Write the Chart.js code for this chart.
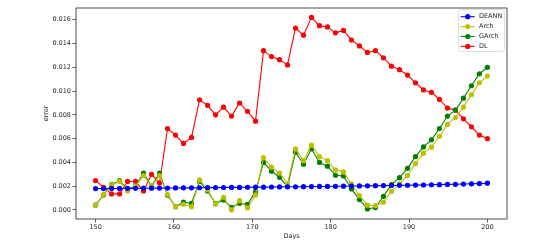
<!DOCTYPE html>
<html>
<head>
<meta charset="utf-8">
<script src="https://cdn.jsdelivr.net/npm/chart.js@4.4.1/dist/chart.umd.min.js"></script>
<style>
  html, body { margin: 0; padding: 0; background: #fff; }
  #wrap { width: 537px; height: 247px; }
</style>
</head>
<body>
<div id="wrap"><canvas id="errChart" width="537" height="247"></canvas></div>
<script>
// x positions (50 points between day 150 and 200)
const days = [150.00, 151.02, 152.04, 153.06, 154.08, 155.10, 156.12, 157.14, 158.16, 159.18,
              160.20, 161.22, 162.24, 163.27, 164.29, 165.31, 166.33, 167.35, 168.37, 169.39,
              170.41, 171.43, 172.45, 173.47, 174.49, 175.51, 176.53, 177.55, 178.57, 179.59,
              180.61, 181.63, 182.65, 183.67, 184.69, 185.71, 186.73, 187.76, 188.78, 189.80,
              190.82, 191.84, 192.86, 193.88, 194.90, 195.92, 196.94, 197.96, 198.98, 200.00];

const deann = [0.00180, 0.00180, 0.00181, 0.00181, 0.00182, 0.00182, 0.00183, 0.00183, 0.00184, 0.00184,
               0.00185, 0.00186, 0.00186, 0.00187, 0.00188, 0.00188, 0.00189, 0.00190, 0.00190, 0.00191,
               0.00192, 0.00192, 0.00193, 0.00194, 0.00195, 0.00195, 0.00196, 0.00197, 0.00198, 0.00198,
               0.00199, 0.00200, 0.00201, 0.00202, 0.00203, 0.00204, 0.00205, 0.00206, 0.00207, 0.00208,
               0.00209, 0.00210, 0.00212, 0.00213, 0.00215, 0.00216, 0.00218, 0.00220, 0.00222, 0.00225];

const arch = [0.00040, 0.00130, 0.00210, 0.00240, 0.00160, 0.00200, 0.00290, 0.00200, 0.00290, 0.00130,
              0.00028, 0.00048, 0.00028, 0.00253, 0.00170, 0.00050, 0.00107, 0.00000, 0.00078, 0.00017,
              0.00126, 0.00440, 0.00360, 0.00310, 0.00220, 0.00514, 0.00415, 0.00545, 0.00449, 0.00415,
              0.00337, 0.00320, 0.00220, 0.00120, 0.00040, 0.00036, 0.00065, 0.00157, 0.00220, 0.00290,
              0.00390, 0.00478, 0.00528, 0.00620, 0.00720, 0.00778, 0.00865, 0.00970, 0.01070, 0.01126];

const garch = [0.00040, 0.00126, 0.00213, 0.00247, 0.00174, 0.00200, 0.00310, 0.00200, 0.00310, 0.00124,
               0.00028, 0.00067, 0.00056, 0.00240, 0.00160, 0.00053, 0.00084, 0.00023, 0.00056, 0.00048,
               0.00154, 0.00400, 0.00326, 0.00275, 0.00196, 0.00486, 0.00385, 0.00514, 0.00400, 0.00368,
               0.00292, 0.00286, 0.00177, 0.00087, 0.00008, 0.00020, 0.00115, 0.00213, 0.00272, 0.00350,
               0.00449, 0.00530, 0.00590, 0.00685, 0.00790, 0.00840, 0.00940, 0.01045, 0.01146, 0.01200];

const dl = [0.00247, 0.00190, 0.00135, 0.00135, 0.00240, 0.00240, 0.00160, 0.00300, 0.00227, 0.00685,
            0.00630, 0.00560, 0.00610, 0.00927, 0.00880, 0.00800, 0.00865, 0.00790, 0.00900, 0.00830,
            0.00747, 0.01340, 0.01290, 0.01264, 0.01220, 0.01530, 0.01470, 0.01620, 0.01550, 0.01540,
            0.01490, 0.01510, 0.01430, 0.01380, 0.01325, 0.01340, 0.01280, 0.01210, 0.01180, 0.01135,
            0.01070, 0.01010, 0.00990, 0.00930, 0.00857, 0.00840, 0.00767, 0.00700, 0.00630, 0.00600];

const xTicks = [150, 160, 170, 180, 190, 200];
const yTicks = [0.000, 0.002, 0.004, 0.006, 0.008, 0.010, 0.012, 0.014, 0.016];

const FONT = 'DejaVu Sans';
const TXT = '#262626';

function pts(vals) {
    return vals.map((v, i) => ({ x: days[i], y: v }));
}

function series(label, vals, color) {
    return {
        label: label,
        data: pts(vals),
        borderColor: color,
        backgroundColor: color,
        borderWidth: 1.1,
        pointRadius: 2.6,
        pointHoverRadius: 2.6,
        pointBorderWidth: 0,
        tension: 0
    };
}

// box around the plot area, like matplotlib spines
const framePlugin = {
    id: 'frame',
    afterDraw(chart) {
        const { ctx, chartArea: a } = chart;
        ctx.save();
        ctx.strokeStyle = '#3a3a3a';
        ctx.lineWidth = 0.9;
        ctx.strokeRect(a.left, a.top, a.right - a.left, a.bottom - a.top);
        ctx.restore();
    }
};

// legend drawn inside the axes, top right
const insideLegend = {
    id: 'insideLegend',
    afterDraw(chart) {
        const ctx = chart.ctx;
        const x0 = 458, y0 = 9, w = 46, h = 42;
        ctx.save();
        ctx.fillStyle = 'rgba(255,255,255,0.85)';
        ctx.strokeStyle = '#d6d6d6';
        ctx.lineWidth = 0.8;
        ctx.beginPath();
        ctx.roundRect(x0 + 0.5, y0 + 0.5, w, h, 2);
        ctx.fill();
        ctx.stroke();
        ctx.font = '6.5px ' + FONT;
        ctx.textBaseline = 'middle';
        chart.data.datasets.forEach((ds, i) => {
            const y = 16.7 + i * 9.9;
            ctx.strokeStyle = ds.borderColor;
            ctx.lineWidth = 1.1;
            ctx.beginPath();
            ctx.moveTo(460.7, y);
            ctx.lineTo(474.7, y);
            ctx.stroke();
            ctx.fillStyle = ds.borderColor;
            ctx.beginPath();
            ctx.arc(467.7, y, 2.6, 0, Math.PI * 2);
            ctx.fill();
            ctx.fillStyle = TXT;
            ctx.fillText(ds.label, 479, y);
        });
        ctx.restore();
    }
};

const ctx = document.getElementById('errChart').getContext('2d');

new Chart(ctx, {
    type: 'line',
    data: {
        datasets: [
            series('DEANN', deann, '#0000ff'),
            series('Arch', arch, '#bfbf00'),
            series('GArch', garch, '#008000'),
            series('DL', dl, '#ff0000')
        ]
    },
    options: {
        responsive: false,
        animation: false,
        devicePixelRatio: 1,
        layout: { padding: { left: 42, right: 30, top: 8, bottom: 5 } },
        plugins: {
            legend: { display: false },
            tooltip: { enabled: false }
        },
        scales: {
            x: {
                type: 'linear',
                min: 147.5,
                max: 202.5,
                afterBuildTicks(scale) {
                    scale.ticks = xTicks.map(v => ({ value: v }));
                },
                afterFit(scale) { scale.height = 23; },
                border: { display: false },
                grid: { drawOnChartArea: false, drawTicks: true, tickLength: 3.5, color: '#3a3a3a', lineWidth: 0.8 },
                ticks: {
                    padding: 1,
                    maxRotation: 0,
                    color: TXT,
                    font: { family: FONT, size: 6.5 },
                    callback: v => String(v)
                },
                title: {
                    display: true,
                    text: 'Days',
                    color: TXT,
                    font: { family: FONT, size: 6.5 },
                    padding: { top: 0, bottom: 2 }
                }
            },
            y: {
                min: -0.00076,
                max: 0.01699,
                afterBuildTicks(scale) {
                    scale.ticks = yTicks.map(v => ({ value: v }));
                },
                afterFit(scale) { scale.width = 34; },
                border: { display: false },
                grid: { drawOnChartArea: false, drawTicks: true, tickLength: 3.5, color: '#3a3a3a', lineWidth: 0.8 },
                ticks: {
                    padding: 1.5,
                    color: TXT,
                    font: { family: FONT, size: 6.5 },
                    callback: v => v.toFixed(3)
                },
                title: {
                    display: true,
                    text: 'error',
                    color: TXT,
                    font: { family: FONT, size: 6.5 },
                    padding: { top: 0, bottom: 0 }
                }
            }
        }
    },
    plugins: [framePlugin, insideLegend]
});
</script>
</body>
</html>
